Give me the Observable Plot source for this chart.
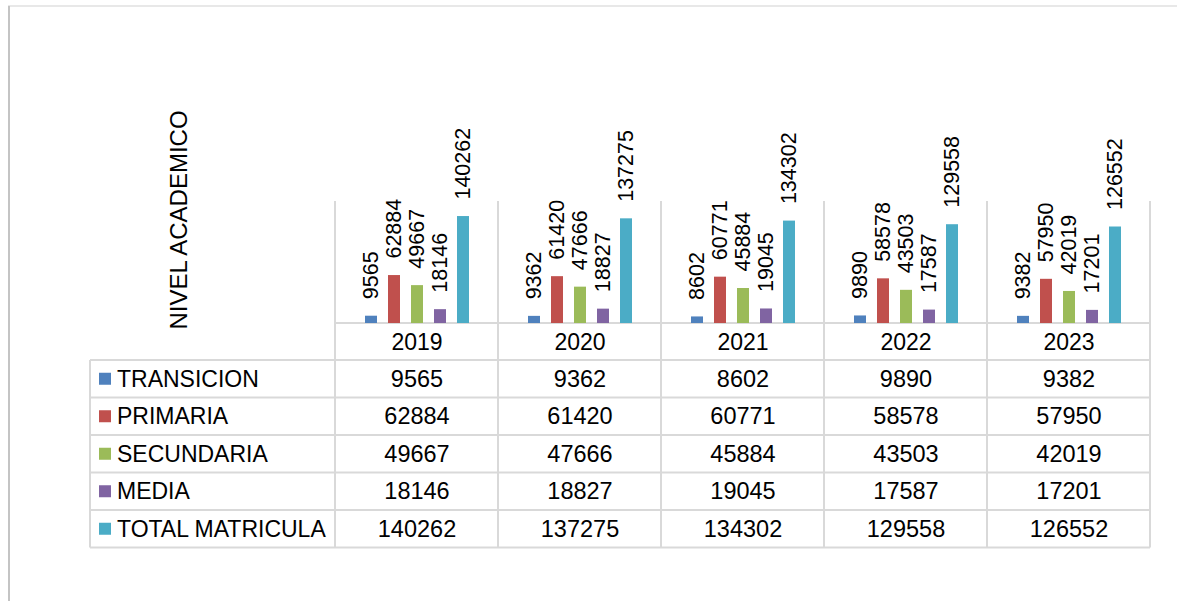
<!DOCTYPE html>
<html>
<head>
<meta charset="utf-8">
<script src="https://cdn.jsdelivr.net/npm/d3@7"></script>
<script src="https://cdn.jsdelivr.net/npm/@observablehq/plot@0.6"></script>
<style>
  html, body { margin: 0; padding: 0; background: #fff; }
  #wrap { position: relative; width: 1177px; height: 601px; overflow: hidden; font-family: "Liberation Sans", Arial, sans-serif; }
  #wrap > svg { position: absolute; left: 0; top: 0; }
</style>
</head>
<body>
<div id="wrap"></div>
<script>
// ---- data ----
const years = ["2019", "2020", "2021", "2022", "2023"];
const series = ["TRANSICION", "PRIMARIA", "SECUNDARIA", "MEDIA", "TOTAL MATRICULA"];
const transicion = [9565, 9362, 8602, 9890, 9382];
const primaria = [62884, 61420, 60771, 58578, 57950];
const secundaria = [49667, 47666, 45884, 43503, 42019];
const media = [18146, 18827, 19045, 17587, 17201];
const totalMatricula = [140262, 137275, 134302, 129558, 126552];
const colors = ["#4F81BD", "#C0504D", "#9BBB59", "#8064A2", "#4BACC6"];
const axisTitle = "NIVEL ACADEMICO";

const seriesValues = [transicion, primaria, secundaria, media, totalMatricula];
const rows = [];
series.forEach((s, i) => years.forEach((y, j) => rows.push({series: s, year: y, value: seriesValues[i][j]})));

// ---- layout ----
const W = 1177, H = 601;
const plotLeft = 335, plotRight = 1150, plotTop = 201, baseY = 323;
const tableLeft = 90, headerBottom = 360, rowH = 37.5;
const tableBottom = headerBottom + rowH * series.length;
const gridColor = "#d9d9d9";
const font = "'Liberation Sans', Arial, sans-serif";

const wrap = document.getElementById("wrap");

// background: frame, grid & table lines, row labels, axis title
const bg = d3.create("svg").attr("width", W).attr("height", H).style("font-family", font);
bg.append("line").attr("x1", 8).attr("x2", W).attr("y1", 6).attr("y2", 6).attr("stroke", "#e0e0e0").attr("stroke-width", 1.5);
bg.append("line").attr("x1", 9).attr("x2", 9).attr("y1", 6).attr("y2", H).attr("stroke", "#c4c4c4").attr("stroke-width", 2);

const colW = (plotRight - plotLeft) / years.length;
const g = bg.append("g").attr("stroke", gridColor).attr("stroke-width", 2);
for (let i = 0; i <= years.length; i++) {
  const x = plotLeft + i * colW;
  g.append("line").attr("x1", x).attr("x2", x).attr("y1", plotTop).attr("y2", tableBottom);
}
g.append("line").attr("x1", tableLeft).attr("x2", tableLeft).attr("y1", headerBottom).attr("y2", tableBottom);
g.append("line").attr("x1", plotLeft).attr("x2", plotRight).attr("y1", baseY).attr("y2", baseY);
for (let i = 0; i <= series.length; i++) {
  const y = headerBottom + i * rowH;
  g.append("line").attr("x1", tableLeft).attr("x2", plotRight).attr("y1", y).attr("y2", y);
}
series.forEach((s, i) => {
  const cy = headerBottom + rowH * (i + 0.5);
  bg.append("rect").attr("x", 99).attr("y", cy - 6).attr("width", 12).attr("height", 12).attr("fill", colors[i]);
  bg.append("text").attr("x", 117).attr("y", cy).attr("dy", "0.35em").attr("font-size", 23).attr("fill", "#000").text(s);
});
bg.append("text").attr("transform", "translate(179,220) rotate(-90)").attr("text-anchor", "middle")
  .attr("dy", "0.35em").attr("font-size", 24).attr("fill", "#000").text(axisTitle);
wrap.appendChild(bg.node());

// chart
const chart = Plot.plot({
  width: W,
  height: H,
  marginLeft: plotLeft,
  marginRight: W - plotRight,
  marginTop: plotTop,
  marginBottom: H - baseY,
  style: {fontFamily: font, background: "transparent", overflow: "visible", color: "#000"},
  fx: {domain: years, padding: 0, axis: null},
  x: {domain: series, paddingInner: 0.48, paddingOuter: 1.14, axis: null},
  y: {domain: [0, 160000], axis: null},
  color: {domain: series, range: colors},
  marks: [
    Plot.barY(rows, {fx: "year", x: "series", y: "value", fill: "series"}),
    Plot.text(rows, {fx: "year", x: "series", y: "value", text: d => String(d.value), rotate: -90, textAnchor: "start", dy: -17, fontSize: 21.5, fill: "#000"}),
    Plot.text(years, {fx: d => d, text: d => d, frameAnchor: "bottom", lineAnchor: "middle", dy: 19, fontSize: 23, fill: "#000"}),
    ...series.map((s, i) => Plot.text(rows.filter(r => r.series === s), {
      fx: "year", text: d => String(d.value), frameAnchor: "bottom", lineAnchor: "middle",
      dy: (headerBottom - baseY) + rowH * (i + 0.5), fontSize: 23.5, fill: "#000"
    }))
  ]
});
wrap.appendChild(chart);
</script>
</body>
</html>
